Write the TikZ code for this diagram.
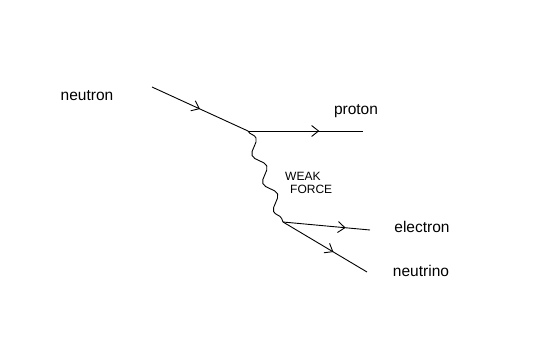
\documentclass[tikz,border=0pt]{standalone}
\usepackage{fontspec}
\setmainfont{Liberation Sans}
\usetikzlibrary{decorations.pathmorphing,decorations.markings,arrows.meta}
\begin{document}
\begin{tikzpicture}[x=1pt,y=-1pt,
  fermion/.style={draw, line width=0.9pt, postaction={decorate},
    decoration={markings, mark=at position #1 with {\arrow{Straight Barb[length=7pt,width=11pt]}}}},
  boson/.style={draw, line width=0.9pt, decorate,
    decoration={snake, segment length=30pt, amplitude=5pt}},
  lbl/.style={font=\fontsize{15.5}{18}\selectfont},
  caps/.style={font=\fontsize{12}{13}\selectfont, align=left, inner sep=0pt}]
\useasboundingbox[fill=white] (0,0) rectangle (551,345);
\coordinate (nin) at (152,87);
\coordinate (v1) at (248,131);
\coordinate (pout) at (363,131);
\coordinate (v2) at (283,222);
\coordinate (eout) at (370,230);
\coordinate (nuout) at (367,272);
\draw[fermion=0.5] (nin) -- (v1);
\draw[fermion=0.62] (v1) -- (pout);
\draw[boson] (v1) -- (v2);
\draw[fermion=0.72] (v2) -- (eout);
\draw[fermion=0.6] (v2) -- (nuout);
\node[lbl] (tn) at (87,96) {neutron};
\node[lbl] (tp) at (356,111) {proton};
\node[lbl] (te) at (422,227) {electron};
\node[lbl] (tnu) at (421,271) {neutrino};
\node[caps, anchor=north west] (tw) at (285,172) {WEAK\\\hspace{5pt}FORCE};
\end{tikzpicture}
\end{document}
